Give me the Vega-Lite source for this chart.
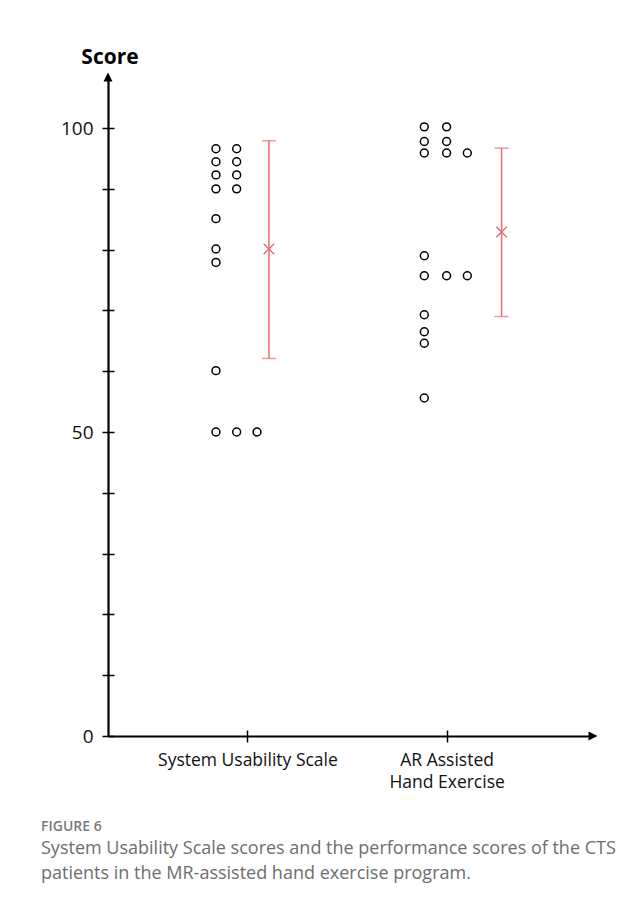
{
  "$schema": "https://vega.github.io/schema/vega-lite/v6.json",
  "width": 485,
  "height": 659,
  "autosize": {"type": "none"},
  "padding": {"left": 108, "top": 77, "right": 49, "bottom": 167},
  "background": "white",
  "config": {
    "view": {"stroke": null},
    "axis": {"grid": false},
    "font": "Open Sans"
  },
  "title": {
    "text": "FIGURE 6",
    "subtitle": ["System Usability Scale scores and the performance scores of the CTS", "patients in the MR-assisted hand exercise program."],
    "orient": "bottom",
    "anchor": "start",
    "frame": "group",
    "dx": -67,
    "offset": 29,
    "font": "Open Sans",
    "fontSize": 14,
    "fontWeight": 600,
    "color": "#7a7a7a",
    "subtitleFont": "Open Sans",
    "subtitleFontSize": 18,
    "subtitleColor": "#6e6e6e",
    "subtitleLineHeight": 25,
    "subtitlePadding": 6
  },
  "resolve": {"axis": {"x": "independent", "y": "independent"}},
  "layer": [
    {
      "data": {"values": [
        {"group": "System Usability Scale", "x": 0.842, "score": 96.6},
        {"group": "System Usability Scale", "x": 0.842, "score": 94.45},
        {"group": "System Usability Scale", "x": 0.842, "score": 92.3},
        {"group": "System Usability Scale", "x": 0.842, "score": 90.0},
        {"group": "System Usability Scale", "x": 0.842, "score": 85.1},
        {"group": "System Usability Scale", "x": 0.842, "score": 80.1},
        {"group": "System Usability Scale", "x": 0.842, "score": 77.9},
        {"group": "System Usability Scale", "x": 0.842, "score": 60.1},
        {"group": "System Usability Scale", "x": 0.842, "score": 50.0},
        {"group": "System Usability Scale", "x": 0.946, "score": 96.6},
        {"group": "System Usability Scale", "x": 0.946, "score": 94.45},
        {"group": "System Usability Scale", "x": 0.946, "score": 92.3},
        {"group": "System Usability Scale", "x": 0.946, "score": 90.0},
        {"group": "System Usability Scale", "x": 0.946, "score": 50.0},
        {"group": "System Usability Scale", "x": 1.048, "score": 50.0},
        {"group": "AR Assisted Hand Exercise", "x": 1.888, "score": 100.2},
        {"group": "AR Assisted Hand Exercise", "x": 1.888, "score": 97.8},
        {"group": "AR Assisted Hand Exercise", "x": 1.888, "score": 95.9},
        {"group": "AR Assisted Hand Exercise", "x": 1.888, "score": 79.0},
        {"group": "AR Assisted Hand Exercise", "x": 1.888, "score": 75.7},
        {"group": "AR Assisted Hand Exercise", "x": 1.888, "score": 69.3},
        {"group": "AR Assisted Hand Exercise", "x": 1.888, "score": 66.5},
        {"group": "AR Assisted Hand Exercise", "x": 1.888, "score": 64.6},
        {"group": "AR Assisted Hand Exercise", "x": 1.888, "score": 55.6},
        {"group": "AR Assisted Hand Exercise", "x": 2.0, "score": 100.2},
        {"group": "AR Assisted Hand Exercise", "x": 2.0, "score": 97.8},
        {"group": "AR Assisted Hand Exercise", "x": 2.0, "score": 95.9},
        {"group": "AR Assisted Hand Exercise", "x": 2.0, "score": 75.7},
        {"group": "AR Assisted Hand Exercise", "x": 2.104, "score": 95.9},
        {"group": "AR Assisted Hand Exercise", "x": 2.104, "score": 75.7}
      ]},
      "mark": {"type": "point", "shape": "circle", "filled": false, "stroke": "black", "strokeWidth": 1.5, "size": 62, "opacity": 1},
      "encoding": {
        "x": {
          "field": "x", "type": "quantitative",
          "scale": {"domain": [0.3, 2.735], "nice": false, "zero": false},
          "axis": {
            "orient": "bottom", "title": null, "values": [1, 2],
            "labelExpr": "datum.value == 1 ? 'System Usability Scale' : ['AR Assisted', 'Hand Exercise']",
            "labelFont": "Open Sans", "labelFontSize": 17.5, "labelColor": "#111111",
            "labelPadding": 9, "labelLineHeight": 22, "labelBaseline": "top",
            "tickSize": 6, "tickWidth": 1.5, "tickColor": "black",
            "domainColor": "black", "domainWidth": 2.2
          }
        },
        "y": {
          "field": "score", "type": "quantitative",
          "scale": {"domain": [0, 108.4], "nice": false},
          "axis": {
            "orient": "left", "values": [0, 10, 20, 30, 40, 50, 60, 70, 80, 90, 100],
            "labelExpr": "datum.value % 50 == 0 ? datum.label : ''",
            "labelFont": "Open Sans", "labelFontSize": 19, "labelColor": "#111111",
            "labelPadding": 9,
            "tickSize": 6, "tickWidth": 1.5, "tickColor": "black",
            "domainColor": "black", "domainWidth": 2.2,
            "title": "Score", "titleAngle": 0, "titleAlign": "center", "titleBaseline": "alphabetic",
            "titleX": 1.5, "titleY": -14, "titleFont": "Open Sans", "titleFontSize": 21, "titleFontWeight": "bold", "titleColor": "black"
          }
        }
      }
    },
    {
      "data": {"name": "err", "values": [
        {"group": "System Usability Scale", "x": 1.108, "mean": 80.1, "lo": 62.1, "hi": 97.9},
        {"group": "AR Assisted Hand Exercise", "x": 2.276, "mean": 82.9, "lo": 69.0, "hi": 96.7}
      ]},
      "mark": {"type": "rule", "color": "#ea6b70", "strokeWidth": 1.5},
      "encoding": {
        "x": {
          "field": "x", "type": "quantitative",
          "axis": {"orient": "bottom", "values": [1, 2], "labels": false, "domain": false, "title": null, "tickSize": -6, "tickWidth": 1.5, "tickColor": "black"}
        },
        "y": {
          "field": "lo", "type": "quantitative",
          "axis": {"orient": "left", "values": [0, 10, 20, 30, 40, 50, 60, 70, 80, 90, 100], "labels": false, "domain": false, "title": null, "tickSize": -6, "tickWidth": 1.5, "tickColor": "black"}
        },
        "y2": {"field": "hi"}
      }
    },
    {
      "data": {"name": "err"},
      "mark": {"type": "tick", "orient": "horizontal", "color": "#ea6b70", "thickness": 1.5, "size": 14},
      "encoding": {
        "x": {"field": "x", "type": "quantitative", "axis": null},
        "y": {"field": "lo", "type": "quantitative", "axis": null}
      }
    },
    {
      "data": {"name": "err"},
      "mark": {"type": "tick", "orient": "horizontal", "color": "#ea6b70", "thickness": 1.5, "size": 14},
      "encoding": {
        "x": {"field": "x", "type": "quantitative", "axis": null},
        "y": {"field": "hi", "type": "quantitative", "axis": null}
      }
    },
    {
      "data": {"name": "err"},
      "mark": {"type": "point", "shape": "M-1,-1L1,1M-1,1L1,-1", "filled": false, "stroke": "#ea6b70", "strokeWidth": 1.4, "size": 110, "opacity": 1},
      "encoding": {
        "x": {"field": "x", "type": "quantitative", "axis": null},
        "y": {"field": "mean", "type": "quantitative", "axis": null}
      }
    },
    {
      "data": {"values": [{}]},
      "mark": {"type": "point", "shape": "M0,-1L-1,1L1,1Z", "filled": true, "color": "black", "size": 81, "opacity": 1},
      "encoding": {
        "x": {"datum": 0.3, "type": "quantitative", "axis": null},
        "y": {"datum": 108.4, "type": "quantitative", "axis": null}
      }
    },
    {
      "data": {"values": [{}]},
      "mark": {"type": "point", "shape": "M1,0L-1,-1L-1,1Z", "filled": true, "color": "black", "size": 81, "opacity": 1},
      "encoding": {
        "x": {"datum": 2.735, "type": "quantitative", "axis": null},
        "y": {"datum": 0, "type": "quantitative", "axis": null}
      }
    }
  ]
}
